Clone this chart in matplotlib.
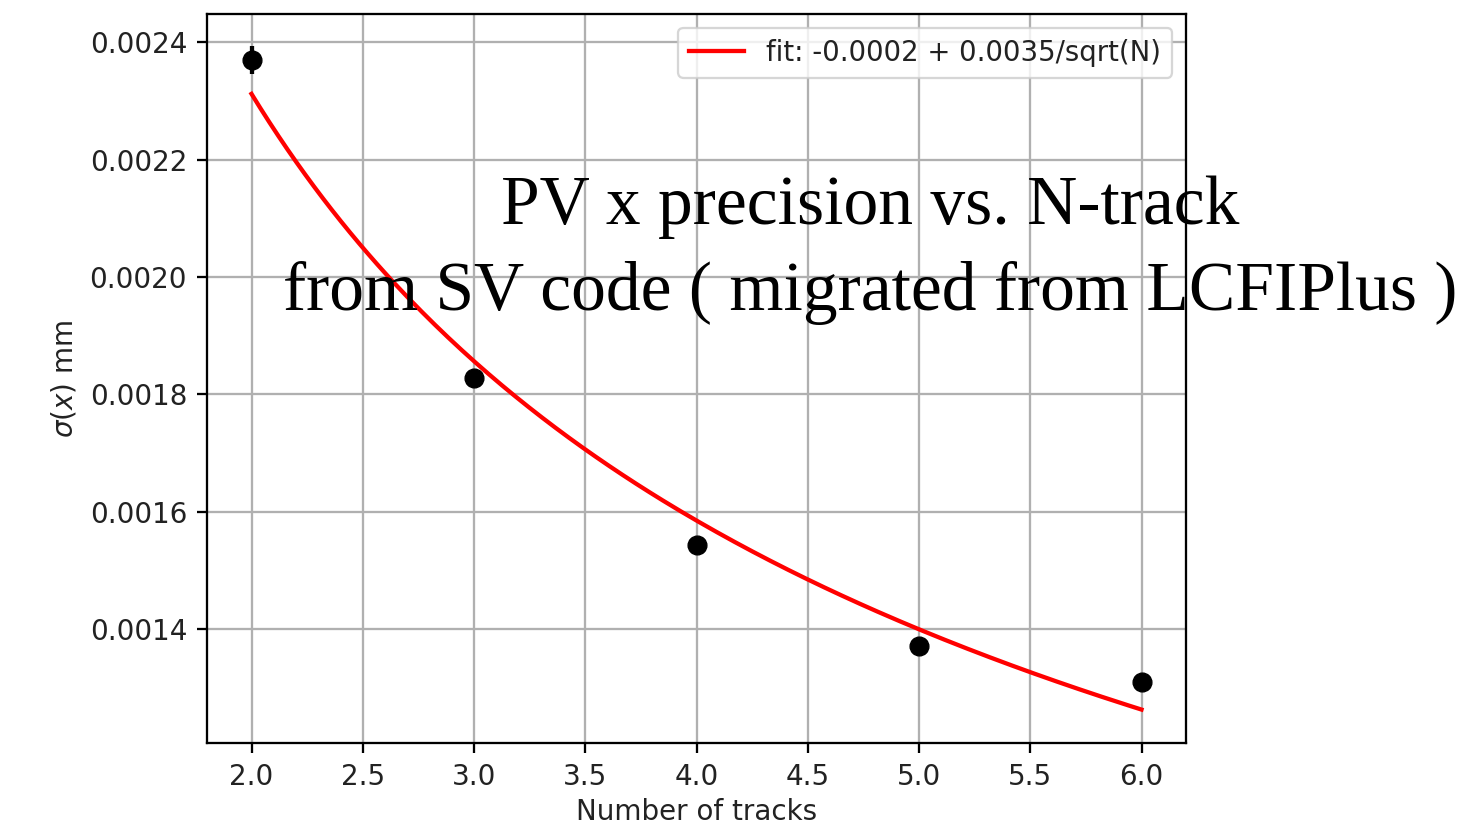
import numpy as np
import matplotlib
matplotlib.use("Agg")
import matplotlib.pyplot as plt
from matplotlib import ticker

# measured resolution per track multiplicity
n_tracks = [2, 3, 4, 5, 6]
sigma_x = [0.002369, 0.001828, 0.001543, 0.001371, 0.001310]
sigma_err = [0.000024, 0.000010, 0.000006, 0.000005, 0.000005]

# fit: a + b/sqrt(N)
fit_a = -0.00017
fit_b = 0.00351

title_lines = ["PV x precision vs. N-track",
               "from SV code ( migrated from LCFIPlus )"]

fs = 20
k = 2.05  # scale relative to matplotlib defaults
fig = plt.figure(figsize=(14.75, 8.26), dpi=100)
ax = fig.add_axes([207 / 1475, 1 - 743 / 826, (1186 - 207) / 1475, (743 - 14) / 826])

nn = np.linspace(2, 6, 200)
ax.plot(nn, fit_a + fit_b / np.sqrt(nn), color="red", lw=1.5 * k,
        label="fit: %.4f + %.4f/sqrt(N)" % (fit_a, fit_b))
ax.errorbar(n_tracks, sigma_x, yerr=sigma_err, fmt="o", color="black",
            ms=13.5, elinewidth=1.5 * k, capsize=0)

ax.set_xlim(1.8, 6.2)
ax.set_ylim(0.001206, 0.002448)
ax.set_xticks(np.arange(2.0, 6.01, 0.5))
ax.set_yticks(np.arange(0.0014, 0.00241, 0.0002))
ax.yaxis.set_major_formatter(ticker.FormatStrFormatter("%.4f"))
ax.xaxis.set_major_formatter(ticker.FormatStrFormatter("%.1f"))
ax.grid(True, color="#b0b0b0", lw=0.8 * k)
ax.tick_params(labelsize=fs, width=0.8 * k, length=3.5 * k, pad=3.5 * k,
               labelcolor="#222222")
for sp in ax.spines.values():
    sp.set_linewidth(0.8 * k)

ax.set_xlabel("Number of tracks", fontsize=fs, color="#222222", labelpad=2.5 * k)
ax.set_ylabel(r"$\sigma(x)$ mm", fontsize=fs, color="#222222", labelpad=4 * k)
leg = ax.legend(loc="upper right", fontsize=19.8, borderaxespad=0.5,
                labelcolor="#222222")
leg.get_frame().set_linewidth(0.8 * k)

fig.text(870 / 1475, 1 - 207 / 826, title_lines[0], fontsize=50,
         family="Liberation Serif", ha="center", va="center")
fig.text(870 / 1475, 1 - 293 / 826, title_lines[1], fontsize=50,
         family="Liberation Serif", ha="center", va="center")

fig.savefig("out.png", dpi=100)
